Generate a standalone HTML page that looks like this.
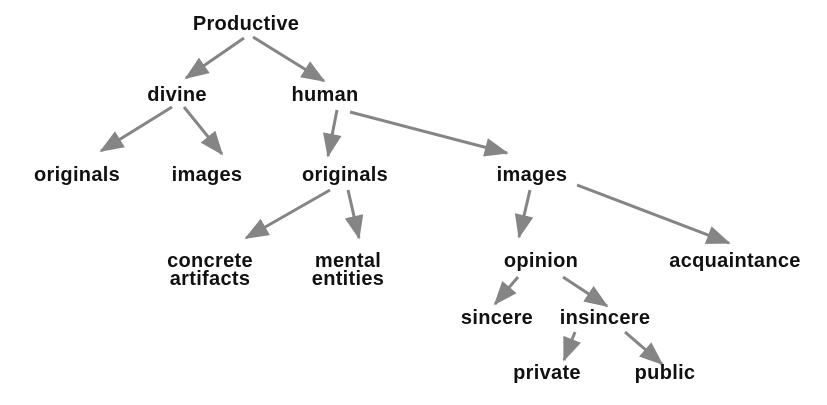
<!DOCTYPE html>
<html><head><style>
html,body{margin:0;padding:0;background:#fff;}
svg text{font-family:"Liberation Sans",sans-serif;font-weight:bold;font-size:20px;fill:#111;text-anchor:middle;letter-spacing:0.3px;}
</style></head><body>
<svg width="827" height="400" viewBox="0 0 827 400" xmlns="http://www.w3.org/2000/svg">
<defs><marker id="a" viewBox="0 0 14 11" refX="13" refY="5.5" markerWidth="8" markerHeight="6.3" markerUnits="strokeWidth" orient="auto"><path d="M0,0 L14,5.5 L0,11 z" fill="#858585"/></marker></defs>
<g stroke="#858585" stroke-width="3" marker-end="url(#a)" fill="none">
<line x1="244" y1="38" x2="186" y2="78"/>
<line x1="253" y1="37" x2="324" y2="81"/>
<line x1="172" y1="107" x2="101" y2="151"/>
<line x1="184" y1="107" x2="222" y2="154"/>
<line x1="337" y1="110" x2="328" y2="156"/>
<line x1="350" y1="112" x2="507" y2="153"/>
<line x1="330" y1="190" x2="246" y2="238"/>
<line x1="348" y1="190" x2="359" y2="238"/>
<line x1="530" y1="190" x2="519" y2="237"/>
<line x1="577" y1="185" x2="729" y2="243"/>
<line x1="518" y1="277" x2="495" y2="304"/>
<line x1="563" y1="277" x2="607" y2="306"/>
<line x1="575" y1="332" x2="564" y2="360"/>
<line x1="625" y1="332" x2="662" y2="364"/>
</g>
<text x="246" y="30">Productive</text>
<text x="177" y="101">divine</text>
<text x="325" y="101">human</text>
<text x="77" y="181">originals</text>
<text x="207" y="181">images</text>
<text x="345" y="181">originals</text>
<text x="532" y="181">images</text>
<text x="210" y="267">concrete</text>
<text x="210" y="285">artifacts</text>
<text x="348" y="267">mental</text>
<text x="348" y="285">entities</text>
<text x="541" y="267">opinion</text>
<text x="735" y="267">acquaintance</text>
<text x="497" y="324">sincere</text>
<text x="605" y="324">insincere</text>
<text x="547" y="379">private</text>
<text x="665" y="379">public</text>
</svg>
</body></html>
